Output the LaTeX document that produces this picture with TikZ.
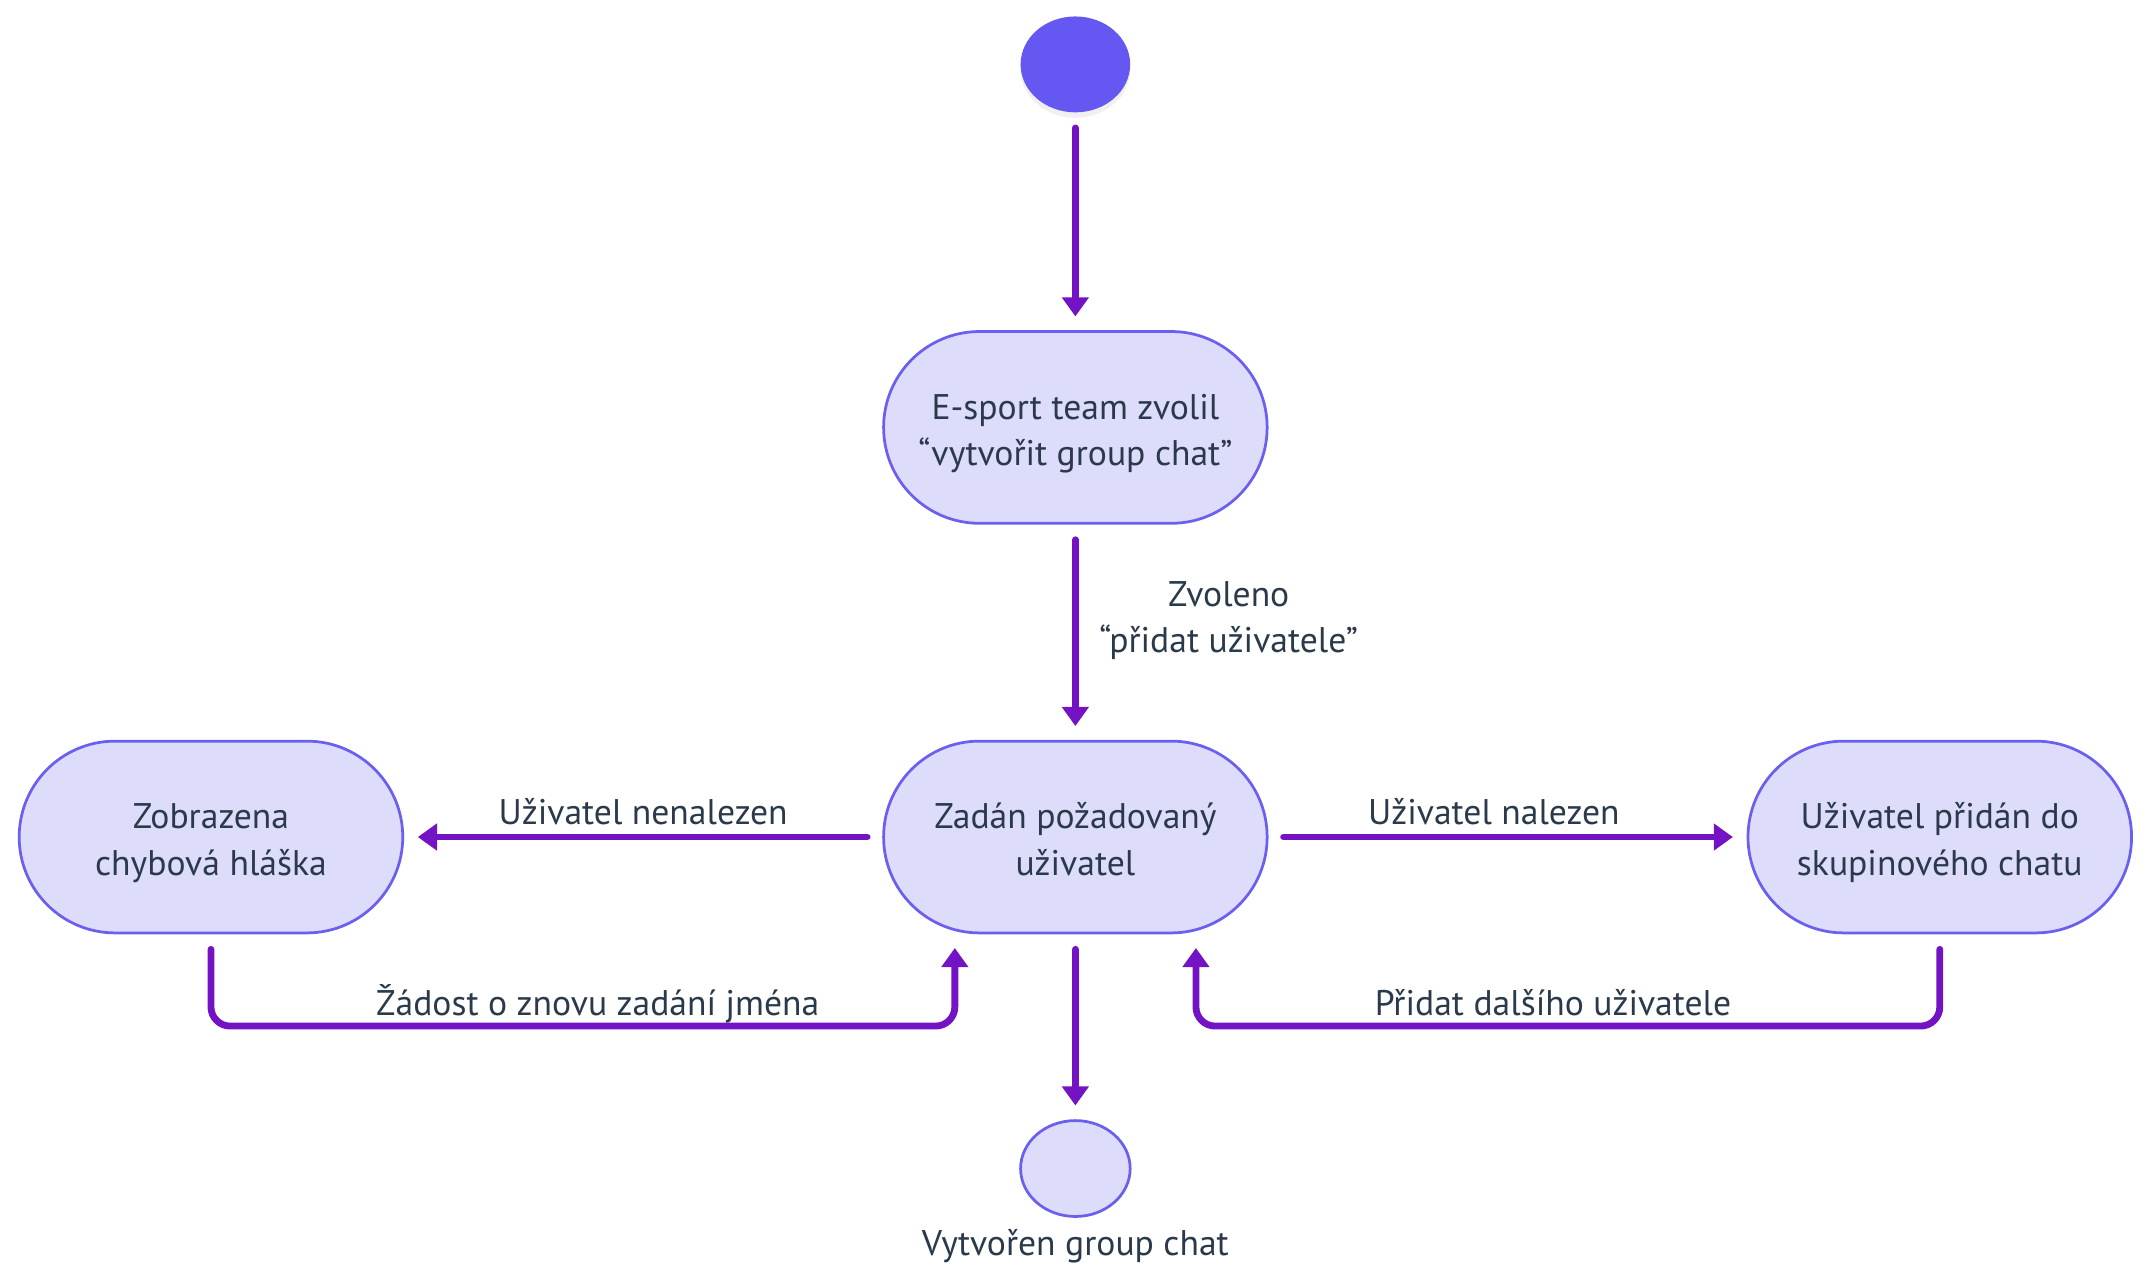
\documentclass[tikz,border=0pt]{standalone}
\usepackage{fontspec}
\setmainfont{PT Sans}
\usetikzlibrary{shapes.geometric,shadows,arrows.meta}
\definecolor{nodefill}{HTML}{DEDCFB}
\definecolor{nodeline}{HTML}{6B5FF0}
\definecolor{startfill}{HTML}{6457F2}
\definecolor{arrowcol}{HTML}{7413C4}
\definecolor{textcol}{HTML}{2B3A4A}
\tikzset{
  state/.style={draw=nodeline, fill=nodefill, line width=1pt, rounded corners=35pt,
    minimum width=140pt, minimum height=70pt, align=center, text=textcol,
    text height=28pt, text depth=0pt, font=\fontsize{13}{17}\selectfont},
  startnode/.style={ellipse, fill=startfill, minimum width=40pt, minimum height=35pt,
    drop shadow={opacity=0.12, shadow xshift=0pt, shadow yshift=-2pt}},
  endnode/.style={ellipse, draw=nodeline, fill=nodefill, line width=1pt,
    minimum width=40pt, minimum height=35pt},
  lbl/.style={text=textcol, align=center, font=\fontsize{13}{17}\selectfont,
    text depth=0pt, inner sep=3.5pt},
  loopl/.style={lbl, inner sep=2.5pt},
  flow/.style={draw=arrowcol, line width=2.5pt, line cap=round,
    -{Triangle[length=7pt, width=9.5pt]}, shorten <=5.5pt, shorten >=5pt}
}
\begin{document}
\begin{tikzpicture}[x=0.5pt, y=-0.5pt]
	  \useasboundingbox (0,0) rectangle (1568,938);
	  \node (start) [startnode] at (785,47) {};
	  \node (team) [state, below of=start, node distance=132.5pt] {E-sport team zvolil\\“vytvořit group chat”};
	  \node (req) [state, below of=team, node distance=149.5pt] {Zadán požadovaný\\uživatel};
	  \node (err) [state, left of=req, node distance=315.5pt] {Zobrazena\\chybová hláška};
	  \node (added) [state, right of=req, node distance=315.5pt] {Uživatel přidán do\\skupinového chatu};
	  \node (end) [endnode, below of=req, node distance=121pt] {};
	  \node (endlbl) [lbl, below of=end, node distance=27pt] {Vytvořen group chat};
	  \draw[flow] (start) to (team);
	  \draw[flow] (team) to node[lbl, right, pos=0.43, xshift=4pt] {Zvoleno\\“přidat uživatele”} (req);
	  \draw[flow] (req) to node[lbl, above] {Uživatel nenalezen} (err);
	  \draw[flow] (req) to node[lbl, above, xshift=-5pt] {Uživatel nalezen} (added);
	  \draw[flow, rounded corners=7pt] (err.south) |- node[loopl, above, pos=0.76] {Žádost o znovu zadání jména}
	    ([xshift=-44pt, yshift=-33.5pt]req.south) -- ([xshift=-44pt]req.south);
	  \draw[flow, rounded corners=7pt] (added.south) |- node[loopl, above, pos=0.76] {Přidat dalšího uživatele}
	    ([xshift=44pt, yshift=-33.5pt]req.south) -- ([xshift=44pt]req.south);
	  \draw[flow] (req) to (end);
	\end{tikzpicture}
\end{document}
